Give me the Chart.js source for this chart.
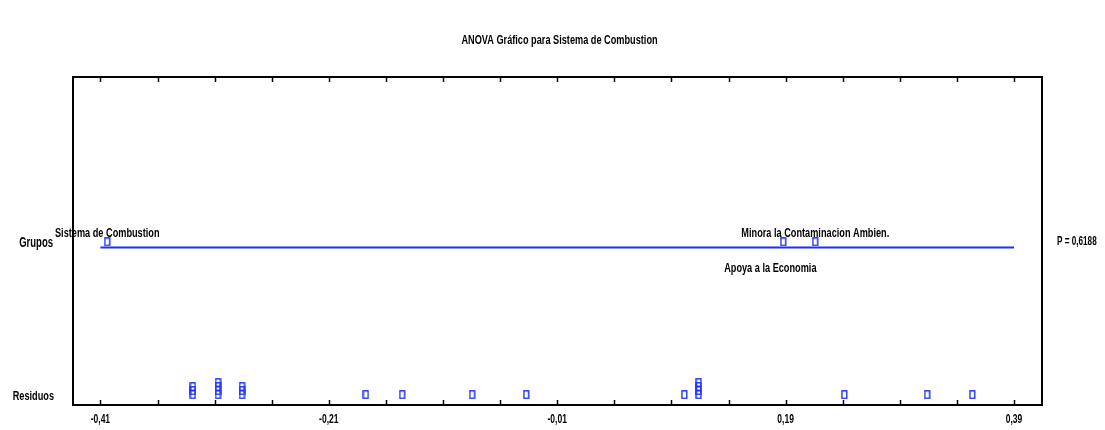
<!DOCTYPE html>
<html>
<head>
<meta charset="utf-8">
<title>ANOVA Gráfico para Sistema de Combustion</title>
<script src="https://cdn.jsdelivr.net/npm/chart.js@4/dist/chart.umd.min.js"></script>
<style>
  html, body { margin: 0; padding: 0; background: #fff; overflow: hidden; }
</style>
</head>
<body>
<canvas id="anovaChart" width="1105" height="430"></canvas>
<script>
// grupos y medias escaladas
const categorias = ['Sistema de Combustion', 'Apoya a la Economia', 'Minora la Contaminacion Ambien.'];
const mediasGrupo = [-0.404, 0.188, 0.216];

// residuos (los repetidos se apilan)
const residuos = [
    -0.329, -0.329, -0.329,
    -0.307, -0.307, -0.307, -0.307,
    -0.286, -0.286, -0.286,
    -0.1775, -0.1457, -0.0844, -0.0371,
    0.1014,
    0.1139, 0.1139, 0.1139, 0.1139,
    0.2415, 0.314, 0.3535
];

const rangoLinea = [-0.41, 0.39];
const etiquetasX = [-0.41, -0.21, -0.01, 0.19, 0.39];
const pasoMenor = 0.05;
const titulo = 'ANOVA Gráfico para Sistema de Combustion';
const valorP = 'P = 0,6188';

const azul = '#1f30f5';
const fuente = "'Liberation Sans', Arial, sans-serif";
const ESTRECHO = 0.68; // letra alta y estrecha

// filas del eje y (1 unidad = 4px)
const FILA_GRUPOS = 40.8;
const FILA_LINEA = 39.4;
const FILA_RESIDUOS = 2.6;

const fmt = v => v.toFixed(2).replace('.', ',');

// marcador rectangular hueco
const marca = document.createElement('canvas');
marca.width = 7;
marca.height = 9;
const mctx = marca.getContext('2d');
mctx.strokeStyle = azul;
mctx.lineWidth = 1.4;
mctx.strokeRect(1, 0.8, 4.8, 7.4);

// apilar residuos iguales
const conteo = {};
const puntosResiduos = residuos.map(r => {
    const k = r.toFixed(4);
    conteo[k] = (conteo[k] || 0) + 1;
    return { x: r, y: FILA_RESIDUOS + (conteo[k] - 1) };
});

const puntosGrupos = mediasGrupo.map(m => ({ x: m, y: FILA_GRUPOS }));

// ticks de -0,41 a 0,39 cada 0,05
const ticksX = [];
for (let v = rangoLinea[0]; v <= etiquetasX[etiquetasX.length - 1] + 1e-9; v += pasoMenor) {
    ticksX.push(Math.round(v * 100) / 100);
}

// texto estrecho: se escala en horizontal
function texto(ctx, str, x, y, size, align) {
    ctx.save();
    ctx.font = 'bold ' + size + 'px ' + fuente;
    ctx.fillStyle = '#000';
    ctx.textAlign = align || 'center';
    ctx.textBaseline = 'middle';
    ctx.translate(x, y);
    ctx.scale(ESTRECHO, 1);
    ctx.fillText(str, 0, 0);
    ctx.restore();
}

const marcoPlugin = {
    id: 'marco',
    afterDraw(chart) {
        const { ctx, chartArea: a, scales } = chart;
        ctx.save();
        ctx.strokeStyle = '#000';
        ctx.lineWidth = 2;
        ctx.strokeRect(a.left, a.top, a.right - a.left, a.bottom - a.top);
        ctx.lineWidth = 1.5;
        ticksX.forEach(t => {
            const px = Math.round(scales.x.getPixelForValue(t)) + 0.5;
            ctx.beginPath();
            ctx.moveTo(px, a.bottom);
            ctx.lineTo(px, a.bottom - 5);
            ctx.moveTo(px, a.top);
            ctx.lineTo(px, a.top + 5);
            ctx.stroke();
        });
        ctx.restore();

        // titulo
        texto(ctx, titulo, (a.left + a.right) / 2 + 2, 40, 13.5);

        // etiquetas del eje x
        etiquetasX.forEach(v => {
            texto(ctx, fmt(v), scales.x.getPixelForValue(v), a.bottom + 15, 12.5);
        });

        // etiquetas de filas
        texto(ctx, 'Grupos', a.left - 20, scales.y.getPixelForValue(FILA_GRUPOS) + 1, 14, 'right');
        texto(ctx, 'Residuos', a.left - 19, scales.y.getPixelForValue(FILA_RESIDUOS) + 2, 13.5, 'right');
        texto(ctx, valorP, a.right + 15, scales.y.getPixelForValue(FILA_GRUPOS), 12, 'left');
    }
};

const nombresPlugin = {
    id: 'nombres',
    afterDatasetsDraw(chart) {
        const { ctx, scales } = chart;
        // alternar arriba/abajo segun orden en x; los de abajo van algo a la izquierda
        const orden = mediasGrupo.map((m, i) => i).sort((a, b) => mediasGrupo[a] - mediasGrupo[b]);
        orden.forEach((i, n) => {
            const px = scales.x.getPixelForValue(mediasGrupo[i]);
            const py = scales.y.getPixelForValue(FILA_GRUPOS);
            const arriba = n % 2 === 0;
            texto(ctx, categorias[i], px + (arriba ? 0 : -13), py + (arriba ? -9 : 26), 13.5);
        });
    }
};

new Chart(document.getElementById('anovaChart'), {
    type: 'scatter',
    data: {
        datasets: [
            {
                type: 'line',
                data: rangoLinea.map(v => ({ x: v, y: FILA_LINEA })),
                borderColor: azul,
                borderWidth: 2,
                pointRadius: 0
            },
            {
                data: puntosGrupos,
                pointStyle: marca,
                pointRadius: 4
            },
            {
                data: puntosResiduos,
                pointStyle: marca,
                pointRadius: 4
            }
        ]
    },
    options: {
        responsive: false,
        animation: false,
        devicePixelRatio: 1,
        layout: { padding: { top: 77 } },
        plugins: {
            legend: { display: false },
            tooltip: { enabled: false },
            title: { display: false }
        },
        scales: {
            x: {
                type: 'linear',
                min: -0.434,
                max: 0.4145,
                grid: { display: false },
                border: { display: false },
                ticks: { display: false },
                afterFit: scale => { scale.height = 25; }
            },
            y: {
                type: 'linear',
                min: 0,
                max: 82,
                grid: { display: false },
                border: { display: false },
                ticks: { display: false },
                afterFit: scale => { scale.width = 73; }
            },
            y2: {
                type: 'linear',
                position: 'right',
                min: 0,
                max: 82,
                grid: { display: false },
                border: { display: false },
                ticks: { display: false },
                afterFit: scale => { scale.width = 63; }
            }
        }
    },
    plugins: [marcoPlugin, nombresPlugin]
});
</script>
</body>
</html>
